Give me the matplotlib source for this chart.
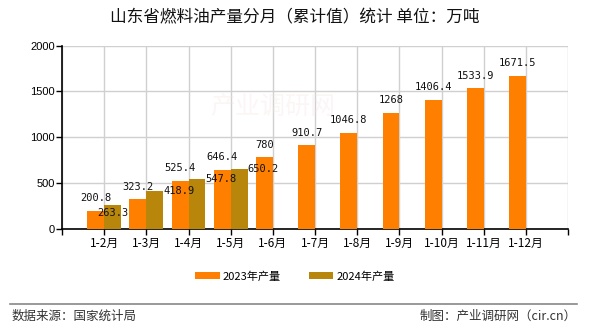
import matplotlib.pyplot as plt
import numpy as np

plt.rcParams['font.family'] = ['Noto Sans CJK SC', 'DejaVu Sans']

# 月度累计产量（万吨）
months = ['1-2月', '1-3月', '1-4月', '1-5月', '1-6月', '1-7月',
          '1-8月', '1-9月', '1-10月', '1-11月', '1-12月']
vals_2023 = [200.8, 323.2, 525.4, 646.4, 780, 910.7,
             1046.8, 1268, 1406.4, 1533.9, 1671.5]
vals_2024 = [263.3, 418.9, 547.8, 650.2]
labels_2023 = ['200.8', '323.2', '525.4', '646.4', '780', '910.7',
               '1046.8', '1268', '1406.4', '1533.9', '1671.5']
labels_2024 = ['263.3', '418.9', '547.8', '650.2']

c23 = '#ff8000'
c24 = '#b8860b'

fig = plt.figure(figsize=(5.9, 3.3), dpi=100)
ax = fig.add_axes([0.105, 0.306, 0.858, 0.556])

x = np.arange(1, len(months) + 1)
w = 0.4
ax.bar(x - w / 2, vals_2023, w, color=c23, label='2023年产量', zorder=3)
x24 = x[:len(vals_2024)]
ax.bar(x24 + w / 2, vals_2024, w, color=c24, label='2024年产量', zorder=3)

num_font = dict(family='DejaVu Sans Mono', fontsize=7.5, color='#111111')
for xi, v, s in zip(x, vals_2023, labels_2023):
    ax.annotate(s, (xi - w / 2, v), xytext=(0, 9), textcoords='offset points',
                ha='center', va='center', zorder=5, **num_font)
# 2024 标签：第一个居中下移，其余贴在柱子右侧
for i, (xi, v, s) in enumerate(zip(x24, vals_2024, labels_2024)):
    if i == 0:
        ax.annotate(s, (xi + w / 2, v), xytext=(0, -6), textcoords='offset points',
                    ha='center', va='center', zorder=5, **num_font)
    else:
        ax.annotate(s, (xi + w, v), xytext=(0, 0), textcoords='offset points',
                    ha='left', va='center', zorder=5, **num_font)

ax.set_xlim(0, 12)
ax.set_ylim(0, 2000)
ax.set_yticks([0, 500, 1000, 1500, 2000])
ax.set_xticks(np.arange(0, 13))
ax.set_xticklabels([''] + months + [''])
ax.tick_params(axis='x', labelsize=8.5, length=4, width=1, pad=2)
ax.tick_params(axis='y', labelsize=8, length=4, width=1, pad=1)
for lab in ax.get_yticklabels():
    lab.set_family('Liberation Sans')

ax.grid(True, color='#d0d0d0', linewidth=1, zorder=0)
ax.spines['top'].set_visible(False)
ax.spines['right'].set_visible(False)
ax.spines['left'].set_linewidth(1.2)
ax.spines['bottom'].set_linewidth(1.2)

# 淡水印
ax.text(5.0, 1330, '产业调研网', fontsize=18, color='#f4e4de', alpha=0.3,
        ha='center', va='center', zorder=4)

fig.text(0.5, 0.945, '山东省燃料油产量分月（累计值）统计 单位：万吨',
         ha='center', va='center', fontsize=12, color='#111111')

fig.legend(loc='center', bbox_to_anchor=(0.5, 0.163), ncol=2, frameon=False,
           fontsize=8, handlelength=2.2, handleheight=0.7, columnspacing=2.5,
           handletextpad=0.3)

fig.add_artist(plt.Line2D([0.017, 0.978], [0.08, 0.08], color='#888888',
                          linewidth=1.2, transform=fig.transFigure))
fig.text(0.02, 0.042, '数据来源：国家统计局', ha='left', va='center',
         fontsize=9, color='#333333')
fig.text(0.978, 0.042, '制图：产业调研网（cir.cn）', ha='right', va='center',
         fontsize=9, color='#333333')

fig.savefig('out.png', dpi=100)
